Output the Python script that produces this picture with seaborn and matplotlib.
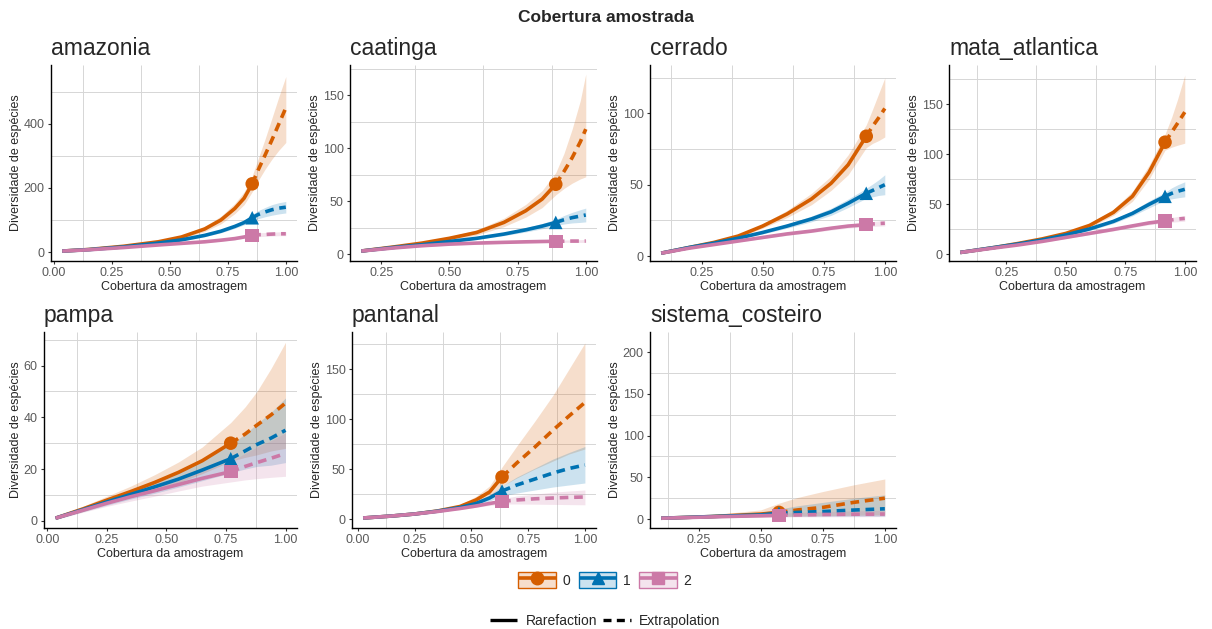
import matplotlib
matplotlib.use("Agg")
import numpy as np
import pandas as pd
import matplotlib.pyplot as plt
import seaborn as sns
from matplotlib.lines import Line2D
from matplotlib.patches import Patch
from matplotlib.legend_handler import HandlerTuple
from matplotlib.colors import to_rgba
from matplotlib.ticker import FixedLocator

# ---------------- data ----------------
BIOMES = ["amazonia", "caatinga", "cerrado", "mata_atlantica", "pampa", "pantanal", "sistema_costeiro"]
ORDERS = ["0", "1", "2"]
COLORS = ["#D55E00", "#0072B2", "#CC79A7"]
MARKERS = ["o", "^", "s"]

# amazonia
amazonia_cov = [0.035, 0.15, 0.30, 0.45, 0.55, 0.65, 0.72, 0.78, 0.82, 0.855, 0.88, 0.91, 0.94, 0.97, 1.0]
amazonia_nrare = 10
amazonia_q0 = [3, 8, 18, 32, 47, 72, 100, 136, 168, 213, 255, 302, 350, 400, 450]
amazonia_q0_lo = [2, 7, 16, 29, 42, 64, 88, 120, 148, 188, 222, 258, 290, 318, 342]
amazonia_q0_hi = [4, 9, 20, 35, 52, 80, 112, 152, 188, 238, 290, 352, 418, 485, 548]
amazonia_q1 = [3, 7.5, 16, 28, 38, 52, 65, 80, 92, 107, 117, 125, 132, 137, 140]
amazonia_q1_lo = [2, 7, 15, 26, 35, 48, 60, 74, 85, 97, 104, 110, 115, 119, 122]
amazonia_q1_hi = [4, 8, 17, 30, 41, 56, 70, 86, 99, 117, 129, 139, 148, 154, 158]
amazonia_q2 = [3, 7, 14, 22, 27, 32, 37, 42, 47, 52, 54, 55, 56, 57, 57]
amazonia_q2_lo = [2, 6, 13, 20, 25, 29, 34, 38, 43, 47, 48, 49, 50, 51, 51]
amazonia_q2_hi = [4, 8, 15, 24, 29, 35, 40, 46, 51, 57, 60, 61, 62, 63, 63]

# caatinga
caatinga_cov = [0.177, 0.30, 0.40, 0.50, 0.60, 0.70, 0.78, 0.84, 0.89, 0.92, 0.95, 0.98, 1.0]
caatinga_nrare = 9
caatinga_q0 = [3, 7, 10.5, 15, 20.5, 30, 41, 52, 66, 78, 91, 106, 118]
caatinga_q0_lo = [2, 6, 9.5, 13.5, 18, 26, 35, 44, 56, 62, 67, 71, 73]
caatinga_q0_hi = [4, 8, 11.5, 16.5, 23, 34, 47, 60, 77, 95, 118, 145, 170]
caatinga_q1 = [3, 6.5, 9, 12, 15, 19, 23, 26.5, 30, 32.5, 34.5, 36, 37]
caatinga_q1_lo = [2, 6, 8.5, 11, 14, 17.5, 21, 24, 27, 28.5, 29.5, 30, 30.5]
caatinga_q1_hi = [4, 7, 9.5, 13, 16, 20.5, 25, 29, 33, 36.5, 39.5, 42, 43.5]
caatinga_q2 = [3, 6, 8, 9.5, 10.5, 11.2, 11.7, 12, 12.2, 12.3, 12.4, 12.4, 12.5]
caatinga_q2_lo = [2, 5, 7, 8.5, 9.5, 10.2, 10.7, 11, 11.2, 11.2, 11.2, 11.1, 11.1]
caatinga_q2_hi = [4, 7, 9, 10.5, 11.5, 12.2, 12.7, 13, 13.2, 13.4, 13.6, 13.7, 13.9]

# cerrado
cerrado_cov = [0.085, 0.20, 0.30, 0.40, 0.50, 0.60, 0.70, 0.78, 0.85, 0.924, 0.95, 0.975, 1.0]
cerrado_nrare = 10
cerrado_q0 = [2, 6, 9.5, 14, 21, 29.5, 40, 51, 64, 84, 91, 97, 103.5]
cerrado_q0_lo = [1.5, 5.5, 9, 13, 19.5, 27, 36, 46, 57, 76, 79, 81, 83.5]
cerrado_q0_hi = [2.5, 6.5, 10, 15, 22.5, 32, 44, 56, 71, 92, 103, 114, 125]
cerrado_q1 = [2, 6, 9, 12.5, 16.5, 21, 26, 31, 37, 44, 46, 48, 50]
cerrado_q1_lo = [1.5, 5.5, 8.5, 11.8, 15.5, 19.5, 24, 28.5, 34, 40.5, 41.5, 42.5, 43]
cerrado_q1_hi = [2.5, 6.5, 9.5, 13.2, 17.5, 22.5, 28, 33.5, 40, 47.5, 50.5, 53.5, 57]
cerrado_q2 = [2, 5.5, 8, 10.5, 13, 15.5, 17.5, 19.5, 21, 22, 22.5, 22.8, 23]
cerrado_q2_lo = [1.5, 5, 7.5, 10, 12.2, 14.5, 16.5, 18.2, 19.6, 20.5, 20.8, 21, 21.1]
cerrado_q2_hi = [2.5, 6, 8.5, 11, 13.8, 16.5, 18.5, 20.8, 22.4, 23.5, 24.2, 24.6, 24.9]

# mata_atlantica
mata_atlantica_cov = [0.056, 0.20, 0.30, 0.40, 0.50, 0.60, 0.70, 0.78, 0.85, 0.917, 0.945, 0.97, 1.0]
mata_atlantica_nrare = 10
mata_atlantica_q0 = [2, 7, 11, 15.5, 21, 29, 42, 58, 82, 112, 122, 131, 142]
mata_atlantica_q0_lo = [1.5, 6.5, 10.5, 14.5, 19.5, 27, 39, 53, 75, 104, 107, 109, 111]
mata_atlantica_q0_hi = [2.5, 7.5, 11.5, 16.5, 22.5, 31, 45, 63, 89, 120, 137, 155, 179]
mata_atlantica_q1 = [2, 7, 10.5, 14.5, 19.5, 25.5, 33, 41, 50, 58, 61, 63, 65]
mata_atlantica_q1_lo = [1.5, 6.5, 10, 13.8, 18.5, 24, 31, 38.5, 46.5, 54, 55.5, 56.5, 57.5]
mata_atlantica_q1_hi = [2.5, 7.5, 11, 15.2, 20.5, 27, 35, 43.5, 53.5, 62, 66.5, 69.5, 72.5]
mata_atlantica_q2 = [2, 6.5, 9.5, 13, 17, 21, 25, 28.5, 31.5, 33.5, 34.5, 35.3, 36]
mata_atlantica_q2_lo = [1.5, 6, 9, 12.2, 16, 19.7, 23.5, 26.8, 29.6, 31.5, 32.2, 32.7, 33.2]
mata_atlantica_q2_hi = [2.5, 7, 10, 13.8, 18, 22.3, 26.5, 30.2, 33.4, 35.5, 36.8, 37.9, 38.8]

# pampa
pampa_cov = [0.034, 0.15, 0.25, 0.35, 0.45, 0.55, 0.65, 0.77, 0.83, 0.88, 0.94, 1.0]
pampa_nrare = 8
pampa_q0 = [1, 4.6, 8, 11.3, 14.8, 18.7, 23.2, 30, 33.5, 37, 41, 45.5]
pampa_q0_lo = [0.5, 3.6, 6.5, 9.2, 11.8, 14.7, 18.2, 23, 24.5, 25.5, 27, 28]
pampa_q0_hi = [1.5, 5.6, 9.5, 13.4, 17.8, 22.7, 28.5, 38, 44, 50, 59, 69]
pampa_q1 = [1, 4.3, 7.3, 10.2, 13.1, 16.1, 19.6, 24, 27, 29.5, 32, 35]
pampa_q1_lo = [0.5, 3.5, 6, 8.4, 10.6, 13, 15.5, 18.5, 20, 21, 21.5, 22.5]
pampa_q1_hi = [1.5, 5.1, 8.6, 12, 15.6, 19.2, 23.7, 29.5, 33.5, 37.5, 42, 47.5]
pampa_q2 = [1, 4.1, 6.8, 9.3, 11.6, 14, 16.4, 19, 21, 22.5, 24.2, 26]
pampa_q2_lo = [0.5, 3.3, 5.6, 7.6, 9.5, 11.5, 13.4, 15, 15.8, 16.3, 16.8, 17.2]
pampa_q2_hi = [1.5, 4.9, 8, 11, 13.7, 16.5, 19.4, 23, 26, 28.5, 31, 34]

# pantanal
pantanal_cov = [0.023, 0.15, 0.25, 0.35, 0.45, 0.52, 0.58, 0.635, 0.70, 0.78, 0.86, 0.93, 1.0]
pantanal_nrare = 8
pantanal_q0 = [1, 3, 5, 8, 12.5, 19, 27, 42, 56, 72, 89, 103, 116.5]
pantanal_q0_lo = [0.5, 2.5, 4.3, 7, 10.8, 16, 22.5, 33, 41, 50, 58, 65, 70]
pantanal_q0_hi = [1.5, 3.5, 5.7, 9, 14.5, 22.5, 33, 52, 73, 98, 124, 150, 176]
pantanal_q1 = [1, 3, 5, 7.8, 11.5, 15.5, 21, 28, 34, 40, 46, 50.5, 54]
pantanal_q1_lo = [0.5, 2.5, 4.4, 7, 10, 13.5, 18, 23, 26, 29, 32, 34, 36]
pantanal_q1_hi = [1.5, 3.5, 5.6, 8.6, 13, 17.5, 24, 33, 42, 51, 60, 66.5, 72.5]
pantanal_q2 = [1, 3, 5, 7.5, 10.5, 13, 15.5, 17.6, 19, 20.2, 21, 21.6, 22]
pantanal_q2_lo = [0.5, 2.6, 4.5, 6.8, 9.5, 11.7, 13.5, 15, 15, 14.8, 14.6, 14.4, 14.2]
pantanal_q2_hi = [1.5, 3.4, 5.5, 8.2, 11.5, 14.3, 17.5, 20.2, 23, 25, 26.8, 28, 29]

# sistema_costeiro
sistema_costeiro_cov = [0.098, 0.20, 0.30, 0.40, 0.50, 0.573, 0.65, 0.75, 0.875, 1.0]
sistema_costeiro_nrare = 6
sistema_costeiro_q0 = [1, 2, 3, 4.5, 6, 8, 11, 14, 20, 25]
sistema_costeiro_q0_lo = [0.5, 1, 1.5, 2, 2.5, 3, 3.5, 4, 4.5, 5]
sistema_costeiro_q0_hi = [1.5, 3.5, 5.5, 8, 11, 19, 26, 33, 41, 48]
sistema_costeiro_q1 = [1, 2, 3, 4, 5, 7, 8, 9, 10.8, 12.3]
sistema_costeiro_q1_lo = [0.5, 1.2, 1.8, 2.3, 2.8, 3.2, 3.3, 3.4, 3.5, 3.5]
sistema_costeiro_q1_hi = [1.5, 2.8, 4.5, 6, 8, 12, 16, 20, 25, 29]
sistema_costeiro_q2 = [1, 1.8, 2.6, 3.3, 4, 4.5, 5, 5.5, 5.8, 6]
sistema_costeiro_q2_lo = [0.5, 1.2, 1.6, 2, 2.3, 2.5, 2.6, 2.7, 2.8, 2.9]
sistema_costeiro_q2_hi = [1.5, 2.5, 3.6, 4.6, 5.8, 7, 8, 9, 9.8, 10.5]

# ---------------- layout (pixels) ----------------
W, H = 1212, 629
PANEL_PX = {  # left, top, right, bottom
    "amazonia": (51, 65, 297, 261),
    "caatinga": (350, 65, 597, 261),
    "cerrado": (650, 65, 896, 261),
    "mata_atlantica": (949, 65, 1196, 261),
    "pampa": (44, 332, 297, 528),
    "pantanal": (352, 332, 596, 528),
    "sistema_costeiro": (650, 332, 896, 528),
}
YLIM = {
    "amazonia": (-28, 584), "caatinga": (-6.4, 178.5), "cerrado": (-3.5, 134),
    "mata_atlantica": (-6.5, 189), "pampa": (-2.8, 73), "pantanal": (-9, 187),
    "sistema_costeiro": (-10.7, 224),
}
YSTEP = {"amazonia": 200, "caatinga": 50, "cerrado": 50, "mata_atlantica": 50,
         "pampa": 20, "pantanal": 50, "sistema_costeiro": 50}


def long_table(biome):
    g = globals()
    cov = g[f"{biome}_cov"]
    nr = g[f"{biome}_nrare"]
    rows = []
    for q in ORDERS:
        y = g[f"{biome}_q{q}"]
        lo = g[f"{biome}_q{q}_lo"]
        hi = g[f"{biome}_q{q}_hi"]
        for i, (c, v, l, h) in enumerate(zip(cov, y, lo, hi)):
            if i < nr:
                rows.append((q, "Rarefaction", c, v, l, h, i == nr - 1))
            if i >= nr - 1:
                rows.append((q, "Extrapolation", c, v, l, h, False))
    return pd.DataFrame(rows, columns=["q", "method", "SC", "qD", "lo", "hi", "obs"])


sns.set_theme(style="white")
plt.rcParams["font.family"] = ["Liberation Sans", "DejaVu Sans"]
plt.rcParams["lines.solid_capstyle"] = "butt"
plt.rcParams["lines.dash_capstyle"] = "butt"

fig = plt.figure(figsize=(W / 100, H / 100), dpi=100)
palette = dict(zip(ORDERS, COLORS))
markers = dict(zip(ORDERS, MARKERS))

for biome in BIOMES:
    l, t, r, b = PANEL_PX[biome]
    ax = fig.add_axes([l / W, 1 - b / H, (r - l) / W, (b - t) / H])
    d = long_table(biome)
    band = d.drop_duplicates(subset=["q", "SC"])
    for q in ORDERS:
        s = band[band.q == q]
        ax.fill_between(s.SC, s.lo, s.hi, color=palette[q], alpha=0.2, lw=0, zorder=1)
    sns.lineplot(data=d, x="SC", y="qD", hue="q", style="method", palette=palette,
                 dashes={"Rarefaction": "", "Extrapolation": (2.4, 1.6)},
                 style_order=["Rarefaction", "Extrapolation"],
                 linewidth=2.6, estimator=None, sort=False, legend=False, ax=ax, zorder=2)
    sns.scatterplot(data=d[d.obs], x="SC", y="qD", hue="q", style="q", palette=palette,
                    markers=markers, s=95, linewidth=0, legend=False, ax=ax, zorder=3)
    ax.margins(x=0.05)
    ax.set_ylim(*YLIM[biome])
    x0, x1 = ax.get_xlim()
    xt = [v for v in [0, 0.25, 0.5, 0.75, 1.0] if x0 <= v <= x1]
    ax.set_xticks(xt)
    ax.set_xticklabels([f"{v:.2f}" for v in xt])
    xm = [v for v in [0.125, 0.375, 0.625, 0.875] if x0 <= v <= x1]
    ax.xaxis.set_minor_locator(FixedLocator(xm))
    st = YSTEP[biome]
    y0, y1 = YLIM[biome]
    yt = [v for v in np.arange(0, y1 + 1, st) if y0 <= v <= y1]
    ax.set_yticks(yt)
    ax.set_yticklabels([f"{int(v)}" for v in yt])
    ym = [v + st / 2 for v in np.arange(0, y1 + 1, st) if v + st / 2 <= y1]
    ax.yaxis.set_minor_locator(FixedLocator(ym))
    ax.grid(False, which="major")
    ax.grid(True, which="minor", color="#D6D6D6", linewidth=0.7)
    ax.set_axisbelow(True)
    for sp in ["top", "right"]:
        ax.spines[sp].set_visible(False)
    for sp in ["left", "bottom"]:
        ax.spines[sp].set_color("black")
        ax.spines[sp].set_linewidth(1.0)
    ax.tick_params(which="major", length=2.5, width=0.8, color="#333333",
                   labelsize=9, labelcolor="#5A5A5A", pad=2, left=True, bottom=True)
    ax.tick_params(which="minor", length=0)
    ax.set_xlabel("Cobertura da amostragem", fontsize=9, labelpad=1)
    ax.set_ylabel("Diversidade de espécies", fontsize=9, labelpad=1.5)
    ax.set_title(biome, loc="left", fontsize=16.5, pad=7)
    ax.set_facecolor("white")

fig.text(0.5, 1 - 18 / H, "Cobertura amostrada", ha="center", va="center",
         fontsize=12.5, fontweight="bold")

# legends
h1 = [(Patch(facecolor=to_rgba(c, 0.2), edgecolor=c, linewidth=1.0),
       Line2D([], [], color=c, lw=2.6, marker=m, markersize=9))
      for c, m in zip(COLORS, MARKERS)]
fig.legend(h1, ORDERS, loc="center", bbox_to_anchor=(605 / W, 1 - 580 / H),
           ncol=3, frameon=False, fontsize=10, handlelength=2.7, handleheight=1.5,
           handletextpad=0.5, columnspacing=0.6,
           handler_map={tuple: HandlerTuple(ndivide=1, pad=0)})
h2 = [Line2D([], [], color="black", lw=2.4),
      Line2D([], [], color="black", lw=2.4, dashes=(2.4, 1.6))]
fig.legend(h2, ["Rarefaction", "Extrapolation"], loc="center",
           bbox_to_anchor=(605 / W, 1 - 621 / H), ncol=2, frameon=False,
           fontsize=10, handlelength=2.0, handletextpad=0.6, columnspacing=0.4)

fig.savefig("out.png", dpi=100, facecolor="white")
